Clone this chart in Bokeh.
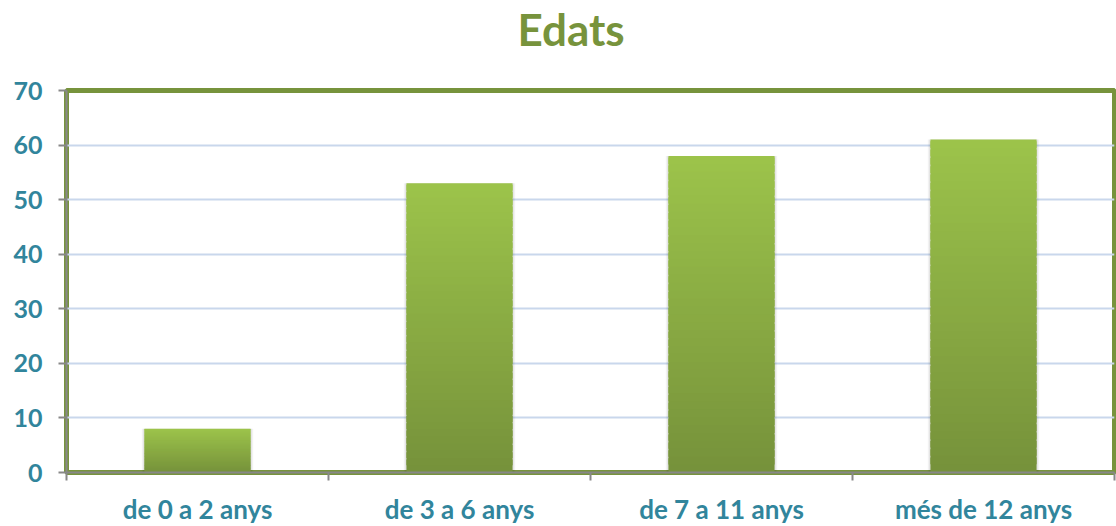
from bokeh.plotting import figure
from bokeh.models import FixedTicker, Range1d, ColumnDataSource, Title
from bokeh.embed import file_html
from bokeh.resources import INLINE

categories = ["de 0 a 2 anys", "de 3 a 6 anys", "de 7 a 11 anys", "més de 12 anys"]
values = [8, 53, 58, 61]
y_ticks = [0, 10, 20, 30, 40, 50, 60, 70]
title_text = "Edats"

title_color = "#77933C"
label_color = "#31859C"
top_rgb = (157, 196, 75)
bot_rgb = (118, 146, 59)
FONT = "Lato"

p = figure(frame_width=1048, frame_height=382, output_backend="svg", toolbar_location=None,
           x_range=Range1d(0, len(categories)), y_range=Range1d(0, 70),
           min_border_left=66, min_border_right=2, min_border_top=90, min_border_bottom=52)

# main title (outermost)
p.title.text = title_text
p.title.align = "left"
p.title.offset = 451
p.title.standoff = 0
p.title.text_font = FONT
p.title.text_font_style = "bold"
p.title.text_font_size = "44px"
p.title.text_color = title_color

# spacer between title and frame
spacer = Title(text=" ", standoff=10, text_font=FONT, text_font_size="20px",
               text_color="#FFFFFF")
p.add_layout(spacer, "above")

# soft shadow
shadow = ColumnDataSource(dict(x=[i + 0.5 for i in range(len(values))], top=values))
p.vbar(x="x", top="top", bottom=-0.4, width=0.425, source=shadow,
       fill_color="#000000", fill_alpha=0.05, line_color=None)
p.vbar(x="x", top="top", bottom=-0.2, width=0.415, source=shadow,
       fill_color="#000000", fill_alpha=0.06, line_color=None)

# gradient bars as strips
n = 40
xs, bots, tops, cols = [], [], [], []
for i, v in enumerate(values):
    for k in range(n):
        f0 = k / n
        f1 = (k + 1) / n
        t = (f0 + f1) / 2
        r = int(bot_rgb[0] + (top_rgb[0] - bot_rgb[0]) * t)
        g = int(bot_rgb[1] + (top_rgb[1] - bot_rgb[1]) * t)
        b = int(bot_rgb[2] + (top_rgb[2] - bot_rgb[2]) * t)
        xs.append(i + 0.5)
        bots.append(v * f0)
        tops.append(min(v, v * f1 + (v / n) * 0.8))
        cols.append("#%02x%02x%02x" % (r, g, b))

src = ColumnDataSource(dict(x=xs, bottom=bots, top=tops, color=cols))
p.vbar(x="x", bottom="bottom", top="top", width=0.405, source=src,
       fill_color="color", line_color=None)

p.outline_line_color = "#77933C"
p.outline_line_width = 5

p.xgrid.grid_line_color = None
p.ygrid.grid_line_color = "#C9D7EC"
p.ygrid.grid_line_width = 2
p.ygrid.ticker = FixedTicker(ticks=y_ticks)

p.yaxis.ticker = FixedTicker(ticks=y_ticks)
p.yaxis.axis_line_color = "#888888"
p.yaxis.axis_line_width = 2
p.yaxis.major_tick_line_color = "#888888"
p.yaxis.major_tick_line_width = 2
p.yaxis.major_tick_out = 8
p.yaxis.major_tick_in = 0
p.yaxis.minor_tick_line_color = None
p.yaxis.major_label_text_font = FONT
p.yaxis.major_label_text_font_style = "bold"
p.yaxis.major_label_text_font_size = "25px"
p.yaxis.major_label_text_color = label_color
p.yaxis.major_label_standoff = 16

centers = [i + 0.5 for i in range(len(categories))]
p.xaxis.ticker = FixedTicker(ticks=centers, minor_ticks=list(range(len(categories) + 1)))
p.xaxis.major_label_overrides = {c: lab for c, lab in zip(centers, categories)}
p.xaxis.axis_line_color = "#888888"
p.xaxis.axis_line_width = 2
p.xaxis.major_tick_line_color = None
p.xaxis.minor_tick_line_color = "#888888"
p.xaxis.minor_tick_line_width = 2
p.xaxis.minor_tick_out = 8
p.xaxis.minor_tick_in = 0
p.xaxis.major_label_text_font = FONT
p.xaxis.major_label_text_font_style = "bold"
p.xaxis.major_label_text_font_size = "26px"
p.xaxis.major_label_text_color = label_color
p.xaxis.major_label_standoff = 12

open("out.html", "w").write(file_html(p, INLINE))
